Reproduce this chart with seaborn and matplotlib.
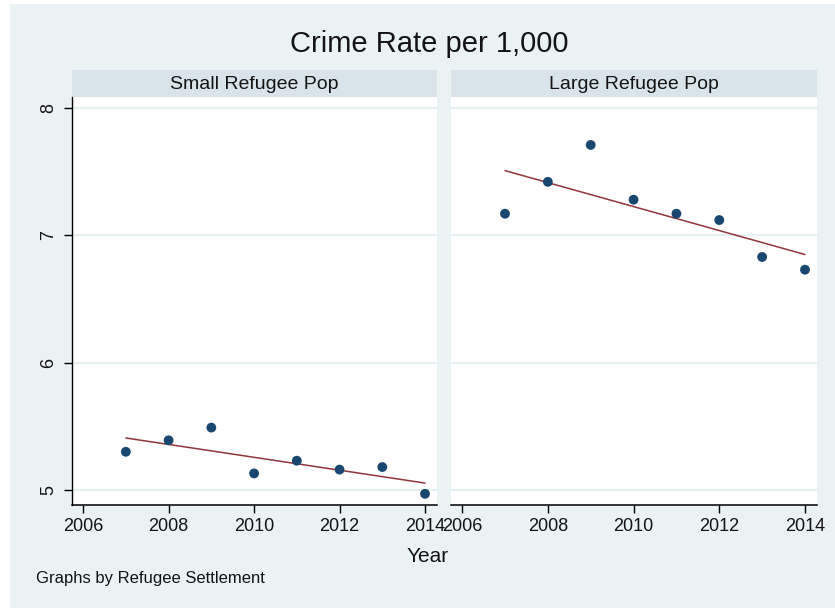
import numpy as np
import pandas as pd
import matplotlib
matplotlib.use("Agg")
import matplotlib.pyplot as plt
from matplotlib.patches import Rectangle
import seaborn as sns

# ---- data ----
years = [2007, 2008, 2009, 2010, 2011, 2012, 2013, 2014]
small_rate = [5.30, 5.39, 5.49, 5.13, 5.23, 5.16, 5.18, 4.97]
large_rate = [7.17, 7.42, 7.71, 7.28, 7.17, 7.12, 6.83, 6.73]
groups = ["Small Refugee Pop", "Large Refugee Pop"]
x_ticks = [2006, 2008, 2010, 2012, 2014]
y_ticks = [5, 6, 7, 8]
title = "Crime Rate per 1,000"
x_label = "Year"
note = "Graphs by Refugee Settlement"

df = pd.DataFrame({
    "Year": years * 2,
    "Rate": small_rate + large_rate,
    "Settlement": [groups[0]] * len(years) + [groups[1]] * len(years),
})

sns.set_theme(style="white")
plt.rcParams["font.family"] = ["Liberation Sans", "DejaVu Sans"]

W, H = 835, 608
fig = plt.figure(figsize=(W / 100, H / 100), dpi=100)
fig.patch.set_facecolor("white")

BG = "#eaf2f3"
STRIP = "#d8e4ea"
GRID = "#e6eff2"
NAVY = "#1a476f"
MAROON = "#90353b"
TXT = "#141414"

fig.patches.append(Rectangle((10 / W, 0), 1 - 10 / W, 604 / H,
                             transform=fig.transFigure, facecolor=BG,
                             edgecolor="none", zorder=-10))

def px_rect(x0, y0, x1, y1):
    return [x0 / W, (H - y1) / H, (x1 - x0) / W, (y1 - y0) / H]

panels = [(72, 437), (451, 817)]
top, bottom = 97, 505
axes = []
for i, (g, (xl, xr)) in enumerate(zip(groups, panels)):
    ax = fig.add_axes(px_rect(xl, top, xr, bottom))
    axes.append(ax)
    sub = df[df["Settlement"] == g]
    sns.regplot(data=sub, x="Year", y="Rate", ax=ax, ci=None, truncate=True,
                scatter_kws=dict(s=50, color=NAVY, edgecolor="none", zorder=3, alpha=1),
                line_kws=dict(color=MAROON, lw=1.1, zorder=2))
    ax.set_facecolor("white")
    ax.set_xlim(2005.74, 2014.28)
    ax.set_ylim(4.882, 8.0865)
    ax.set_xticks(x_ticks)
    ax.set_xticklabels([str(t) for t in x_ticks])
    ax.set_yticks(y_ticks)
    ax.set_yticklabels([str(t) for t in y_ticks])
    ax.set_xlabel("")
    ax.set_ylabel("")
    ax.grid(False)
    for yv in y_ticks:
        ax.axhline(yv, color=GRID, lw=1.5, zorder=0)
    for s in ["top", "right"]:
        ax.spines[s].set_visible(False)
    ax.spines["bottom"].set_color("black")
    ax.spines["bottom"].set_linewidth(1.1)
    ax.tick_params(axis="x", bottom=True, length=5.5, width=1.0, color="black",
                   pad=4, labelsize=13, labelcolor=TXT, direction="out")
    if i == 0:
        ax.spines["left"].set_color("black")
        ax.spines["left"].set_linewidth(1.0)
        ax.tick_params(axis="y", left=True, length=5.5, width=1.0, color="black",
                       pad=5, labelsize=13, labelcolor=TXT, labelrotation=90,
                       direction="out")
        for lab in ax.get_yticklabels():
            lab.set_va("center")
    else:
        ax.spines["left"].set_visible(False)
        ax.tick_params(axis="y", left=False, labelleft=False)

    # strip
    fig.patches.append(Rectangle((xl / W, (H - top) / H), (xr - xl) / W, 27 / H,
                                 transform=fig.transFigure, facecolor=STRIP,
                                 edgecolor="none", zorder=-5))
    fig.text((xl + xr) / 2 / W, (H - 89) / H, g, ha="center", va="baseline",
             fontsize=14, color=TXT)

fig.text(429 / W, (H - 51.7) / H, title, ha="center", va="baseline",
         fontsize=21, color=TXT)
fig.text(428 / W, (H - 561.7) / H, x_label, ha="center", va="baseline",
         fontsize=15, color=TXT)
fig.text(36 / W, (H - 583.3) / H, note, ha="left", va="baseline",
         fontsize=12, color=TXT)

fig.savefig("out.png", dpi=100, facecolor=fig.get_facecolor())
